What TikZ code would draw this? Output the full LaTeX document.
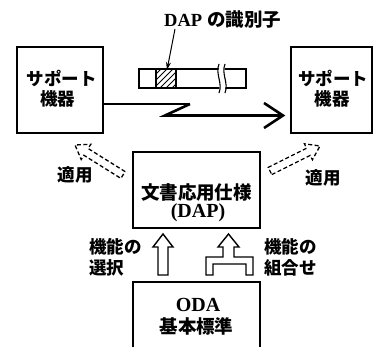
\documentclass[tikz,border=0pt]{standalone}
\usepackage{fontspec}
\setmainfont{Liberation Serif}
\newfontfamily\cjk{Noto Sans CJK JP}
\usetikzlibrary{arrows.meta}
\begin{document}
\begin{tikzpicture}[x=1pt,y=-1pt,
  boxed/.style={draw, line width=1.6pt, inner sep=0pt},
  jt/.style={font=\cjk\bfseries\fontsize{17.5}{20}\selectfont, inner sep=0pt, anchor=center},
  lt/.style={font=\bfseries\fontsize{20}{22}\selectfont, inner sep=0pt},
  hollow/.style={draw, line width=1.4pt, line join=miter},
  dhollow/.style={draw, line width=1.3pt, dash pattern=on 4pt off 2.5pt},
]
\useasboundingbox (0,0) rectangle (373,347);

% boxes
\node[boxed, minimum width=86pt, minimum height=86pt] (lb) at (60,90) {};
\node[boxed, minimum width=81pt, minimum height=86pt] (rb) at (331.5,90) {};
\node[boxed, minimum width=127pt, minimum height=76pt] (mb) at (196.5,190) {};
\node[boxed, minimum width=127pt, minimum height=70pt] (ob) at (196.5,317) {};

% box texts
\node[jt] (lb1) at (62,78) {サポート};
\node[jt] (lb2) at (58,99) {機器};
\node[jt] (rb1) at (333,78) {サポート};
\node[jt] (rb2) at (332,99) {機器};
\node[jt, font=\cjk\bfseries\fontsize{18.5}{20}\selectfont] (mb1) at (196.5,192) {文書応用仕様};
\node[lt] (mb2) at (198,213) {(DAP)};
\node[lt] (ob1) at (198,305) {ODA};
\node[jt, font=\cjk\bfseries\fontsize{18.5}{20}\selectfont] (ob2) at (196.5,326) {基本標準};

% top label
\node[lt, font=\bfseries\fontsize{18.5}{20}\selectfont, anchor=west] (dl) at (164,20) {DAP\hspace{5pt}{\cjk の識別子}};

% strip
\node[draw, line width=1.3pt, minimum width=107pt, minimum height=19pt, inner sep=0pt] (strip) at (192.5,78.5) {};
\begin{scope}
  \clip (156,69) rectangle (176,88);
  \foreach \k in {-20,-14,...,40} {
    \draw[line width=0.9pt] (156+\k,88) -- (176+\k,68);
  }
\end{scope}
\draw[line width=1.3pt] (156,69) -- (156,88) (176,69) -- (176,88);
\fill[white] (219,68) .. controls (216,75) and (222,82) .. (219,89) -- (225,89) .. controls (228,82) and (222,75) .. (225,68) -- cycle;
\draw[line width=1.1pt] (219,64) .. controls (215,74) and (223,83) .. (219,93);
\draw[line width=1.1pt] (225,64) .. controls (221,74) and (229,83) .. (225,93);

% label arrow
\coordinate (dlfoot) at (175,29);
\coordinate (hatchtop) at (167,70);
\draw[line width=1pt, -{Stealth[length=8pt,width=5pt]}] (dlfoot) -- (hatchtop);

% zigzag transmission arrow
\coordinate (z1) at (190,104);
\coordinate (z2) at (165,115.5);
\coordinate (zz) at (283,115.5);
\draw[line width=1.6pt] (lb.east |- z1) -- (z1);
\draw[line width=2.6pt, line join=miter] (z1) -- (z2) -- (zz);
\draw[line width=2.6pt, line join=miter] (264,103) -- (zz) -- (264,128);

% dashed hollow arrows (apply)
\draw[dhollow] (125.1,171.6) -- (88.1,148.5) -- (90.8,144.3) -- (75,145) -- (81.2,159.5) -- (83.9,155.3) -- (120.9,178.4) -- cycle;
\draw[dhollow] (271.8,174.6) -- (310.2,155.4) -- (312.4,159.8) -- (320,146) -- (304.4,143.8) -- (306.6,148.2) -- (268.2,167.4) -- cycle;
\node[jt] (ap1) at (75,175) {適用};
\node[jt] (ap2) at (323,178) {適用};

% hollow up arrows
\draw[hollow] (158,275) -- (158,247) -- (153,247) -- (163,234) -- (173,247) -- (168,247) -- (168,275) -- cycle;
\draw[hollow] (206,275) -- (206,257) -- (223,257) -- (223,247) -- (218,247) -- (228.5,234) -- (239,247) -- (234,247) -- (234,257) -- (253,257) -- (253,275) -- (246,275) -- (246,264) -- (213,264) -- (213,275) -- cycle;

% function labels
\node[jt, anchor=west] (f1) at (89,247) {機能の};
\node[jt, anchor=west] (f2) at (89,268) {選択};
\node[jt, anchor=west] (f3) at (264,247) {機能の};
\node[jt, anchor=west] (f4) at (264,268) {組合せ};
\end{tikzpicture}
\end{document}
